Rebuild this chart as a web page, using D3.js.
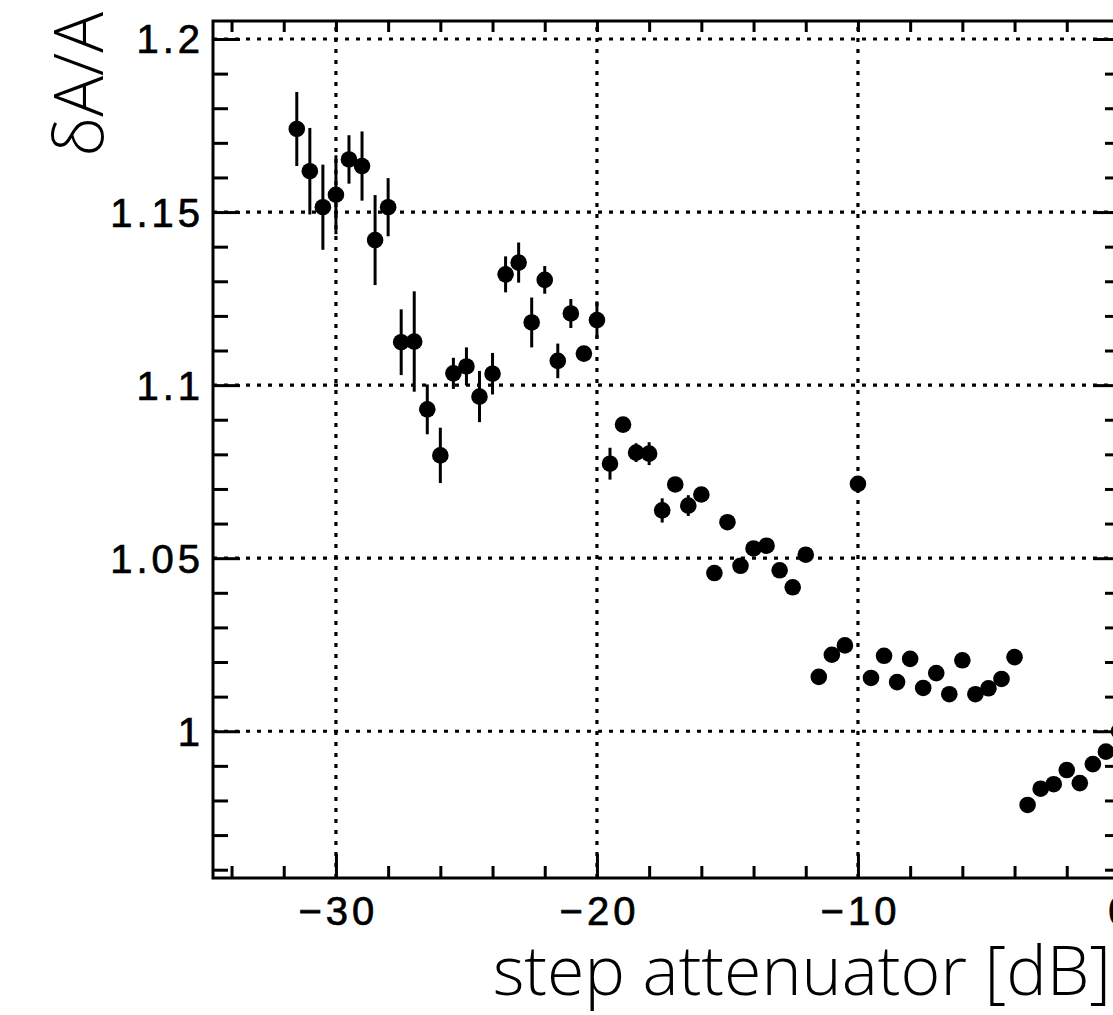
<!DOCTYPE html>
<html><head><meta charset="utf-8">
<script src="https://cdn.jsdelivr.net/npm/d3@7"></script>
<style>body{margin:0;background:#fff;} svg{display:block;}
.tl{font-family:"Liberation Sans", Arimo, Arial, Helvetica, sans-serif;}
.tt{font-family:"Open Sans", sans-serif;}
</style>
</head><body>
<script>
const attenuation = [-31.5,-31,-30.5,-30,-29.5,-29,-28.5,-28,-27.5,-27,-26.5,-26,-25.5,-25,-24.5,-24,
  -23.5,-23,-22.5,-22,-21.5,-21,-20.5,-20,-19.5,-19,-18.5,-18,-17.5,-17,-16.5,-16,
  -15.5,-15,-14.5,-14,-13.5,-13,-12.5,-12,-11.5,-11,-10.5,-10,-9.5,-9,-8.5,-8,
  -7.5,-7,-6.5,-6,-5.5,-5,-4.5,-4,-3.5,-3,-2.5,-2,-1.5,-1,-0.5,0];
const ratio = [1.174,1.1618,1.1514,1.155,1.1652,1.1633,1.1419,1.1514,1.1124,1.1126,1.093,1.0797,1.1034,1.1054,1.0967,1.1033,
  1.132,1.1354,1.1181,1.1304,1.107,1.1207,1.1091,1.1188,1.0773,1.0886,1.0805,1.0802,1.0638,1.0713,1.0652,1.0684,
  1.0457,1.0604,1.0478,1.0528,1.0536,1.0465,1.0416,1.051,1.0157,1.0221,1.0248,1.0715,1.0154,1.0218,1.0142,1.0209,
  1.0125,1.0168,1.0107,1.0205,1.0107,1.0124,1.0151,1.0214,0.9787,0.9834,0.9847,0.9888,0.985,0.9905,0.9941,1.0];
const ratioErr = [0.0107,0.0125,0.0123,0.0114,0.007,0.010,0.013,0.0084,0.0095,0.0145,0.0072,0.008,0.0045,0.0055,0.0074,0.006,
  0.0052,0.0058,0.0072,0.004,0.005,0.0042,0.002,0.0054,0.0046,0.001,0.0027,0.0033,0.0035,0.0015,0.003,0.001,
  0.001,0.0015,0.001,0.001,0.001,0.001,0.001,0.001,0.001,0.001,0.001,0.001,0.001,0.001,0.001,0.001,
  0.001,0.001,0.001,0.001,0.001,0.001,0.001,0.001,0.001,0.001,0.001,0.001,0.001,0.001,0.001,0];
const xMajorTicks = [-30,-20,-10,0];
const xMinorTicks = [-34,-32,-28,-26,-24,-22,-18,-16,-14,-12,-8,-6,-4,-2];
const xTickLabels = ["\u221230","\u221220","\u221210","0"];
const yMajorTicks = [1,1.05,1.1,1.15,1.2];
const yMinorTicks = [0.96,0.97,0.98,0.99,1.01,1.02,1.03,1.04,1.06,1.07,1.08,1.09,1.11,1.12,1.13,1.14,1.16,1.17,1.18,1.19];
const yTickLabels = ["1","1.05","1.1","1.15","1.2"];
const xTitle = "step attenuator [dB]";
const yTitle = "\u03b4A/A";

const W = 1113, H = 1015;
const L = 213, T = 21, R = 1120, B = 878;
const svg = d3.select("body").append("svg").attr("width", W).attr("height", H);
const x = d3.scaleLinear().domain([-34.71, 0.04]).range([L, R]);
const y = d3.scaleLinear().domain([0.9576, 1.2052]).range([B, T]);

// grid
const grid = svg.append("g").attr("stroke", "#000").attr("stroke-width", 3.2).attr("stroke-dasharray", "4,7");
grid.selectAll("line.gx").data(xMajorTicks).join("line")
  .attr("x1", d => x(d)).attr("x2", d => x(d)).attr("y1", B).attr("y2", T);
grid.selectAll("line.gy").data(yMajorTicks).join("line")
  .attr("y1", d => y(d)).attr("y2", d => y(d)).attr("x1", L).attr("x2", R);

function styleAxis(g) {
  g.select(".domain").remove();
  g.selectAll(".tick line").attr("stroke", "#000").attr("stroke-width", 3);
}
// bottom axis: major + minor
svg.append("g").attr("transform", `translate(0,${B})`)
  .call(d3.axisBottom(x).tickValues(xMinorTicks).tickSize(-12).tickFormat(""))
  .call(styleAxis);
const bx = svg.append("g").attr("transform", `translate(0,${B})`)
  .call(d3.axisBottom(x).tickValues(xMajorTicks).tickSize(-24).tickFormat((d, i) => xTickLabels[i]))
  .call(styleAxis);
bx.attr("font-family", null).attr("font-size", null);
bx.selectAll(".tick text").attr("class", "tl").attr("y", 47).attr("dy", 0).attr("dx", 2)
  .attr("font-size", 40).attr("letter-spacing", 4).attr("fill", "#000")
  .attr("stroke", "#000").attr("stroke-width", 0.7);
// top axis
svg.append("g").attr("transform", `translate(0,${T})`)
  .call(d3.axisTop(x).tickValues(xMinorTicks.concat(xMajorTicks)).tickSize(-11).tickFormat(""))
  .call(styleAxis);
// left axis
svg.append("g").attr("transform", `translate(${L},0)`)
  .call(d3.axisLeft(y).tickValues(yMinorTicks).tickSize(-15).tickFormat(""))
  .call(styleAxis);
const ly = svg.append("g").attr("transform", `translate(${L},0)`)
  .call(d3.axisLeft(y).tickValues(yMajorTicks).tickSize(-27).tickFormat((d, i) => yTickLabels[i]))
  .call(styleAxis);
ly.attr("font-family", null).attr("font-size", null);
ly.selectAll(".tick text").attr("class", "tl").attr("x", -9).attr("dy", 14)
  .attr("font-size", 40).attr("letter-spacing", 4).attr("fill", "#000")
  .attr("stroke", "#000").attr("stroke-width", 0.7);
// right axis
svg.append("g").attr("transform", `translate(${R},0)`)
  .call(d3.axisRight(y).tickValues(yMinorTicks).tickSize(-15).tickFormat(""))
  .call(styleAxis);
svg.append("g").attr("transform", `translate(${R},0)`)
  .call(d3.axisRight(y).tickValues(yMajorTicks).tickSize(-27).tickFormat(""))
  .call(styleAxis);

// frame
svg.append("rect").attr("x", L).attr("y", T).attr("width", R - L).attr("height", B - T)
  .attr("fill", "none").attr("stroke", "#000").attr("stroke-width", 3);

// data
const pts = attenuation.map((a, i) => ({a, v: ratio[i], e: ratioErr[i]}));
svg.append("g").selectAll("line").data(pts).join("line")
  .attr("x1", d => x(d.a)).attr("x2", d => x(d.a))
  .attr("y1", d => y(d.v - d.e)).attr("y2", d => y(d.v + d.e))
  .attr("stroke", "#000").attr("stroke-width", 3);
svg.append("g").selectAll("circle").data(pts).join("circle")
  .attr("cx", d => x(d.a)).attr("cy", d => y(d.v)).attr("r", 8.3).attr("fill", "#000");

// titles
svg.append("text").attr("class", "tt").attr("x", 1111).attr("y", 995).attr("text-anchor", "end")
  .attr("font-weight", 300).attr("font-size", 68)
  .attr("fill", "#000").text(xTitle);
svg.append("text").attr("class", "tt").attr("transform", "translate(103,12) rotate(-90)").attr("text-anchor", "end")
  .attr("font-weight", 300).attr("font-size", 68)
  .attr("fill", "#000").text(yTitle);
</script>
</body></html>
